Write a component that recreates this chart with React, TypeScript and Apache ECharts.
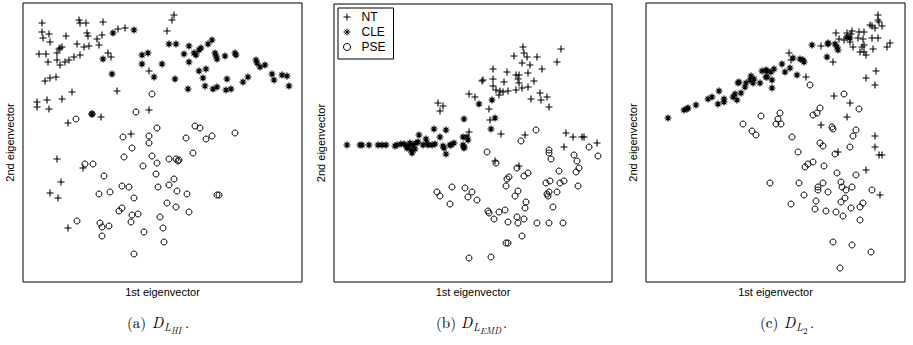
import React, { useEffect, useRef } from 'react';
import * as echarts from 'echarts';

const seriesNames = ['NT', 'CLE', 'PSE'];
const xAxisName = '1st eigenvector';
const yAxisName = '2nd eigenvector';

// Panel (a) D_{L_HI}
const hiNT = [[19,259],[56,262],[57,259],[63,259],[80,260],[19,250],[26,248],[20,244],[27,240],[43,246],[64,249],[65,246],[79,247],[74,243],[54,238],[61,235],[66,236],[76,237],[37,234],[39,235],[16,228],[23,228],[34,229],[36,233],[25,220],[34,222],[37,217],[42,220],[46,222],[51,225],[57,227],[85,229],[88,225],[22,201],[27,204],[33,205],[95,253],[102,254],[49,190],[39,183],[24,182],[14,180],[14,175],[26,173],[94,191],[45,159],[78,165],[126,211],[126,172],[108,148],[151,267],[149,262],[144,251],[34,123],[60,114],[38,100],[27,89],[35,84],[45,54]];
const hiCLE = [[90,249],[111,252],[80,223],[119,227],[125,229],[119,218],[89,208],[131,205],[69,168],[146,238],[153,238],[166,236],[161,228],[171,229],[173,227],[176,232],[178,234],[185,238],[189,242],[166,220],[139,218],[152,203],[176,211],[183,213],[180,204],[182,196],[165,193],[192,229],[193,226],[194,223],[202,226],[212,229],[213,227],[204,203],[203,192],[208,193],[190,193],[194,195],[220,200],[225,205],[233,222],[234,219],[237,215],[242,217],[249,208],[251,202],[259,207],[264,206],[266,196]];
const hiPSE = [[129,188],[113,170],[53,163],[69,168],[134,154],[100,145],[126,146],[126,139],[109,134],[172,156],[177,154],[163,144],[183,143],[189,146],[212,149],[101,125],[129,126],[62,118],[70,118],[120,116],[134,119],[81,106],[133,108],[99,96],[106,95],[135,95],[76,88],[87,90],[111,84],[96,71],[99,74],[109,67],[115,68],[137,65],[54,61],[77,59],[79,55],[86,56],[108,60],[121,50],[79,46],[111,28],[146,123],[153,123],[155,121],[156,122],[170,129],[151,103],[146,97],[154,91],[164,88],[194,87],[196,87],[144,79],[153,75],[166,70],[140,54],[141,40]];

// Panel (b) D_{L_EMD}
const emdNT = [[104,179],[109,176],[106,171],[135,188],[189,235],[190,229],[180,226],[193,225],[203,225],[227,233],[223,220],[188,219],[196,217],[159,213],[173,210],[194,209],[208,213],[182,207],[185,207],[184,203],[185,199],[148,201],[149,202],[159,203],[170,200],[200,201],[159,196],[162,192],[166,191],[165,187],[169,190],[174,191],[182,192],[188,194],[194,195],[141,185],[206,189],[213,185],[207,182],[197,183],[215,175],[155,173],[156,162],[135,150],[167,148],[191,147],[232,149],[239,145],[248,145],[250,145],[230,135],[263,139],[161,121],[185,116]];
const emdCLE = [[130,163],[100,153],[112,152],[85,147],[145,178],[158,182],[161,164],[157,153],[129,145],[133,145],[134,142],[130,134],[13,137],[26,137],[28,137],[35,137],[44,137],[48,137],[52,137],[61,136],[63,137],[67,138],[70,138],[73,136],[74,135],[76,139],[79,137],[81,133],[82,139],[84,140],[73,134],[77,132],[78,129],[89,137],[93,139],[94,137],[98,137],[101,138],[109,136],[110,134],[112,128],[116,137],[117,137],[120,139],[129,137],[130,135],[106,145],[92,143]];
const emdPSE = [[103,90],[106,86],[118,95],[116,78],[131,94],[134,85],[135,24],[202,152],[187,141],[255,135],[215,132],[215,129],[153,130],[162,119],[217,123],[264,126],[240,127],[243,121],[245,114],[242,110],[225,111],[183,114],[194,109],[190,106],[175,105],[173,103],[172,96],[216,101],[212,99],[226,99],[230,101],[244,96],[184,91],[181,86],[215,90],[213,88],[214,86],[223,90],[138,90],[143,82],[192,80],[191,74],[219,75],[154,71],[155,69],[165,70],[171,72],[160,63],[183,65],[184,59],[190,63],[174,60],[203,59],[215,59],[229,59],[188,46],[172,39],[174,39],[157,25]];

// Panel (c) D_{L_2}
const l2NT = [[232,267],[232,262],[233,260],[224,257],[226,256],[236,256],[229,254],[190,249],[201,249],[206,251],[205,248],[213,250],[218,250],[193,243],[198,242],[204,240],[212,244],[217,243],[226,244],[232,244],[244,239],[241,235],[175,236],[207,235],[216,235],[218,237],[227,233],[214,230],[218,230],[220,227],[143,229],[187,220],[145,222],[160,205],[230,211],[220,204],[229,197],[188,186],[204,179],[201,165],[175,157],[229,146],[229,135],[233,127],[236,127],[192,130],[220,112],[234,87]];
const l2CLE = [[22,164],[38,172],[41,173],[42,174],[50,177],[62,183],[66,185],[73,191],[72,178],[78,180],[78,183],[87,185],[89,188],[91,182],[95,189],[92,199],[93,200],[99,195],[100,199],[104,202],[105,206],[108,203],[107,199],[114,199],[116,211],[121,211],[120,205],[166,237],[182,239],[182,238],[189,238],[191,235],[192,232],[201,245],[204,244],[181,225],[147,224],[154,223],[157,222],[158,220],[136,218],[144,214],[120,212],[125,210],[128,213],[139,210],[151,207],[121,205],[126,202],[126,194]];
const l2PSE = [[115,166],[97,158],[106,151],[110,147],[164,197],[198,188],[213,173],[174,174],[171,169],[167,167],[134,169],[132,163],[130,158],[135,158],[186,155],[187,153],[210,152],[207,146],[146,145],[174,139],[177,136],[204,135],[152,130],[189,128],[159,115],[162,118],[167,120],[178,116],[191,109],[210,107],[124,99],[153,99],[172,95],[172,92],[177,99],[182,90],[195,100],[196,95],[200,92],[206,95],[226,92],[158,87],[170,81],[199,84],[195,80],[217,79],[214,75],[145,78],[169,73],[180,71],[190,70],[197,66],[205,74],[214,62],[187,40],[206,37],[225,30],[194,14]];

const panels = [
  { data: [hiNT, hiCLE, hiPSE], xMax: 279, yMax: 279 },
  { data: [emdNT, emdCLE, emdPSE], xMax: 278, yMax: 278 },
  { data: [l2NT, l2CLE, l2PSE], xMax: 259, yMax: 279 },
];

const gridBoxes = [
  { left: 23, top: 3, width: 279, height: 279 },
  { left: 334, top: 4, width: 278, height: 278 },
  { left: 646, top: 3, width: 259, height: 279 },
];

const PLUS = 'path://M5,0V10M0,5H10';
const STAR = 'path://M5,0V10M0,5H10M1.5,1.5L8.5,8.5M8.5,1.5L1.5,8.5';
const symbols = [PLUS, STAR, 'circle'];
const sizes = [7, 7, 6];
const widths = [1.1, 1.2, 1];

const FONT = 'Liberation Sans, Arial, sans-serif';
const SERIF = 'Latin Modern Roman, DejaVu Serif, Liberation Serif, serif';

export default function App() {
  const ref = useRef<HTMLDivElement>(null);
  useEffect(() => {
    if (!ref.current) return;
    const chart = echarts.init(ref.current, undefined, { renderer: 'svg' });
    const grid = gridBoxes.map((g) => ({
      ...g,
      show: true,
      borderColor: '#000',
      borderWidth: 1,
      backgroundColor: '#fff',
      containLabel: false,
    }));
    const xAxis = panels.map((p, i) => ({
      type: 'value',
      gridIndex: i,
      min: 0,
      max: p.xMax,
      name: xAxisName,
      nameLocation: 'middle',
      nameGap: 4,
      nameTextStyle: { fontSize: 11, color: '#000', fontFamily: FONT, verticalAlign: 'top' },
      axisLine: { show: false },
      axisTick: { show: false },
      axisLabel: { show: false },
      splitLine: { show: false },
    }));
    const yAxis = panels.map((p, i) => ({
      type: 'value',
      gridIndex: i,
      min: 0,
      max: p.yMax,
      name: yAxisName,
      nameLocation: 'middle',
      nameGap: 8,
      nameTextStyle: { fontSize: 11, color: '#000', fontFamily: FONT },
      axisLine: { show: false },
      axisTick: { show: false },
      axisLabel: { show: false },
      splitLine: { show: false },
    }));
    const series: any[] = [];
    panels.forEach((p, i) => {
      p.data.forEach((d, k) => {
        series.push({
          type: 'scatter',
          name: seriesNames[k],
          xAxisIndex: i,
          yAxisIndex: i,
          data: d,
          symbol: symbols[k],
          symbolSize: sizes[k],
          symbolKeepAspect: true,
          itemStyle: {
            color: 'transparent',
            borderColor: '#000',
            borderWidth: widths[k],
            opacity: 1,
          },
          emphasis: { disabled: true },
        });
      });
    });

    const cap = (x: number, parts: { t: string; dx: number; dy: number; size: number; italic?: boolean }[]) =>
      parts.map((p) => ({
        type: 'text',
        x: x + p.dx,
        y: 314 + p.dy,
        style: {
          text: p.t,
          fill: '#000',
          font: `${p.italic ? 'italic ' : ''}${p.size}px ${SERIF}`,
        },
      }));

    const graphic = [
      ...cap(127, [
        { t: '(a)', dx: 0, dy: 0, size: 15 },
        { t: 'D', dx: 25, dy: 0, size: 15, italic: true },
        { t: 'L', dx: 37, dy: 7, size: 11, italic: true },
        { t: 'HI', dx: 44, dy: 12, size: 9, italic: true },
        { t: '.', dx: 58, dy: 0, size: 15 },
      ]),
      ...cap(436, [
        { t: '(b)', dx: 0, dy: 0, size: 15 },
        { t: 'D', dx: 25, dy: 0, size: 15, italic: true },
        { t: 'L', dx: 37, dy: 7, size: 11, italic: true },
        { t: 'EMD', dx: 44, dy: 12, size: 9, italic: true },
        { t: '.', dx: 67, dy: 0, size: 15 },
      ]),
      ...cap(760, [
        { t: '(c)', dx: 0, dy: 0, size: 15 },
        { t: 'D', dx: 24, dy: 0, size: 15, italic: true },
        { t: 'L', dx: 36, dy: 7, size: 11, italic: true },
        { t: '2', dx: 43, dy: 12, size: 9 },
        { t: '.', dx: 50, dy: 0, size: 15 },
      ]),
    ];

    chart.setOption({
      animation: false,
      backgroundColor: '#fff',
      grid,
      xAxis,
      yAxis,
      legend: {
        data: seriesNames,
        orient: 'vertical',
        left: 338,
        top: 8,
        width: 58,
        padding: [3, 8, 6, 5],
        itemGap: 3,
        itemWidth: 19,
        itemHeight: 7,
        borderColor: '#000',
        borderWidth: 1,
        borderRadius: 0,
        backgroundColor: '#fff',
        selectedMode: false,
        itemStyle: { borderWidth: 1 },
        textStyle: { fontSize: 12, color: '#000', fontFamily: FONT },
      },
      series,
      graphic,
    });
    return () => chart.dispose();
  }, []);
  return <div ref={ref} style={{ position: 'fixed', left: 0, top: 0, width: 913, height: 345 }} />;
}
